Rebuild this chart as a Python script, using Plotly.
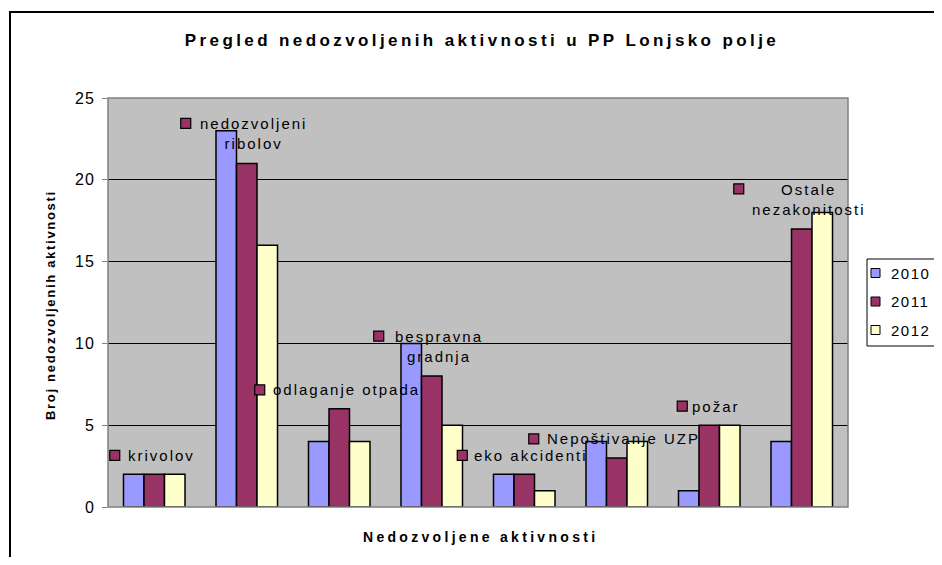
import plotly.graph_objects as go

categories = ["krivolov", "nedozvoljeni ribolov", "odlaganje otpada", "bespravna gradnja",
              "eko akcidenti", "Nepoštivanje UZP", "požar", "Ostale nezakonitosti"]
label_lines = [["krivolov"], ["nedozvoljeni", "ribolov"], ["odlaganje otpada"],
               ["bespravna", "gradnja"], ["eko akcidenti"], ["Nepoštivanje UZP"],
               ["požar"], ["Ostale", "nezakonitosti"]]
years = ["2010", "2011", "2012"]
v2010 = [2, 23, 4, 10, 2, 4, 1, 4]
v2011 = [2, 21, 6, 8, 2, 3, 5, 17]
v2012 = [2, 16, 4, 5, 1, 4, 5, 18]
colors = ["#9999FF", "#993366", "#FFFFCC"]
yticks = [0, 5, 10, 15, 20, 25]

# layout helpers (style only): approximate rendered width of each label block, px
label_block_w = [67, 110, 147, 94, 112, 154, 42, 114]

FONT = "Liberation Sans, Arial, sans-serif"
OFF = 8  # page body margin
L, T = 108, 98            # plot area top-left in window px
PW, PH = 740, 409         # plot area size
FW, FH = 942 - 2 * OFF, 565 - 2 * OFF


def px(xw):
    return (xw - L) / PW


def py(yw):
    return (T + PH - yw) / PH


def sp(text, s):
    return "<span style='letter-spacing:%spx'>%s</span>" % (s, text)


xs = list(range(len(categories)))
fig = go.Figure()
for name, vals, col in zip(years, [v2010, v2011, v2012], colors):
    fig.add_trace(go.Bar(x=xs, y=vals, name=name, showlegend=False,
                         marker=dict(color=col, line=dict(color="black", width=1.5)),
                         hovertext=categories))

# category data labels (Excel style: legend key + category name above the 2011 bar)
LINE_H = 21
for i, (lines, v, bw) in enumerate(zip(label_lines, v2011, label_block_w)):
    n = len(lines)
    fig.add_annotation(x=xs[i], y=v, xref="x", yref="y",
                       text="<br>".join(sp(t, 2) for t in lines),
                       showarrow=False, yanchor="middle", xanchor="center", align="center",
                       yshift=19 + LINE_H * (n - 1) / 2, xshift=7,
                       font=dict(family=FONT, size=15, color="black"))
    cx = 7 - bw / 2 - 13
    cy = 19 + LINE_H * (n - 1)
    fig.add_shape(type="rect", xref="x", yref="y", xsizemode="pixel", ysizemode="pixel",
                  xanchor=xs[i], yanchor=v, x0=cx - 5, x1=cx + 5, y0=cy - 5, y1=cy + 5,
                  fillcolor=colors[1], line=dict(color="black", width=1.2))

# outer chart border
fig.add_shape(type="rect", xref="paper", yref="paper",
              x0=px(10), x1=px(980), y0=py(600), y1=py(12),
              line=dict(color="black", width=2), fillcolor="rgba(0,0,0,0)", layer="below")
# plot area border
fig.add_shape(type="rect", xref="paper", yref="paper", x0=0, x1=1, y0=0, y1=1,
              line=dict(color="#808080", width=1.5), fillcolor="rgba(0,0,0,0)", layer="above")

# legend (drawn as Excel-like box)
fig.add_shape(type="rect", xref="paper", yref="paper",
              x0=px(867), x1=px(990), y0=py(346), y1=py(259),
              line=dict(color="black", width=1), fillcolor="white")
for k, (name, col) in enumerate(zip(years, colors)):
    yc = 273 + 28.5 * k
    fig.add_shape(type="rect", xref="paper", yref="paper",
                  x0=px(871), x1=px(880), y0=py(yc + 4.5), y1=py(yc - 4.5),
                  line=dict(color="black", width=1), fillcolor=col)
    fig.add_annotation(x=px(889), y=py(yc), xref="paper", yref="paper",
                       text=sp(name, 1.5), showarrow=False, xanchor="left", yanchor="middle",
                       font=dict(family=FONT, size=15, color="black"))

# axis titles
fig.add_annotation(x=px(481), y=py(537), xref="paper", yref="paper",
                   text="<b>" + sp("Nedozvoljene aktivnosti", 3.3) + "</b>", showarrow=False,
                   xanchor="center", yanchor="middle", font=dict(family=FONT, size=14, color="black"))
fig.add_annotation(x=px(50), y=py(305), xref="paper", yref="paper", textangle=-90,
                   text="<b>" + sp("Broj nedozvoljenih aktivnosti", 1.7) + "</b>", showarrow=False,
                   xanchor="center", yanchor="middle", font=dict(family=FONT, size=13, color="black"))

fig.update_layout(
    width=FW, height=FH,
    margin=dict(l=L - OFF, r=FW - (L - OFF) - PW, t=T - OFF, b=FH - (T - OFF) - PH, autoexpand=False),
    paper_bgcolor="white", plot_bgcolor="#C0C0C0",
    barmode="group", bargap=0.335, bargroupgap=0,
    title=dict(text="<b>" + sp("Pregled nedozvoljenih aktivnosti u PP Lonjsko polje", 3.4) + "</b>",
               x=(482 - OFF) / FW, xanchor="center", y=1 - (40 - OFF) / FH, yanchor="middle",
               font=dict(family=FONT, size=17, color="black")),
    font=dict(family=FONT, size=15, color="black"),
    showlegend=False,
    xaxis=dict(range=[-0.5, 7.5], showticklabels=False, ticks="", showgrid=False,
               showline=False, zeroline=False),
    yaxis=dict(range=[0, 25], tickvals=yticks, ticktext=[sp(str(t), 1) for t in yticks],
               ticks="outside", ticklen=5, tickcolor="#808080", ticklabelstandoff=4,
               showgrid=True, gridcolor="black", gridwidth=1, zeroline=False,
               showline=False, tickfont=dict(family=FONT, size=16)),
)

fig.write_html("out.html")
